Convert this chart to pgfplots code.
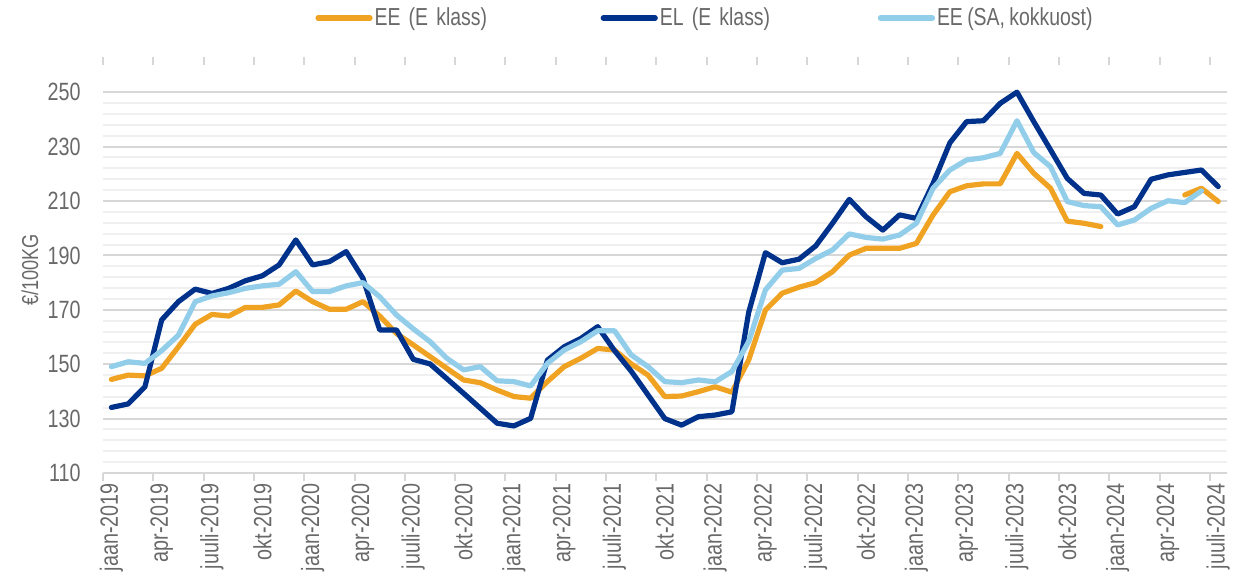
\documentclass[border=0pt]{standalone}
\usepackage{fontspec}
\setmainfont[FakeStretch=0.79,WordSpace=0.8]{Liberation Sans}
\usepackage{pgfplots}
\pgfplotsset{compat=1.18}
\definecolor{cOrange}{RGB}{240,163,35}
\definecolor{cDark}{RGB}{0,50,140}
\definecolor{cLight}{RGB}{146,205,234}
\definecolor{cText}{RGB}{105,105,105}
\definecolor{cGridMaj}{RGB}{215,215,215}
\definecolor{cGridMin}{RGB}{240,240,240}
\begin{document}
\begin{tikzpicture}
\path[use as bounding box] (0,0) rectangle (620pt,292pt);
\begin{axis}[
  scale only axis, width=561.8pt, height=204pt,
  at={(51.5pt,55.5pt)}, anchor=south west,
  xmin=-0.5, xmax=66.5, ymin=110, ymax=260,
  axis line style={draw=none},
  major tick length=0pt, minor tick length=0pt, tick align=outside,
  ytick={110,130,...,250},
  minor y tick num=4,
  ymajorgrids, yminorgrids,
  major grid style={draw=cGridMaj, line width=1pt},
  minor grid style={draw=cGridMin, line width=1pt},
  xtick={0,3,...,66},
  xticklabels={jaan-2019,apr-2019,juuli-2019,okt-2019,jaan-2020,apr-2020,juuli-2020,okt-2020,jaan-2021,apr-2021,juuli-2021,okt-2021,jaan-2022,apr-2022,juuli-2022,okt-2022,jaan-2023,apr-2023,juuli-2023,okt-2023,jaan-2024,apr-2024,juuli-2024},
  extra x ticks={-0.5,2.5,...,65.5},
  extra x tick labels={},
  extra x tick style={major tick length=4pt, tick align=outside, grid=none, major tick style={draw=cGridMaj, line width=1pt}},
  tick label style={font=\fontsize{12.5}{14}\selectfont, text=cText},
  /pgf/number format/assume math mode=true,
  yticklabel style={anchor=east, inner sep=0pt},
  yticklabel shift=11pt,
  xticklabel style={rotate=90, anchor=east, inner sep=0pt},
  xticklabel shift=5pt,
  ylabel={€/100KG},
  ylabel style={at={(axis description cs:-0.065,0.4975)}, anchor=center, font=\fontsize{11.5}{13}\selectfont, text=cText},
  legend columns=3,
  legend cell align=left,
  legend style={at={(axis description cs:0.1887,1.1152)}, anchor=west, draw=none, fill=none, inner sep=0pt,
    font=\fontsize{12.3}{14}\selectfont, text=cText,
    nodes={inner sep=1pt},
    /tikz/column 2/.append style={text width=112pt},
    /tikz/column 4/.append style={text width=108pt}},
  legend image code/.code={\draw[#1, line width=2.6pt, line cap=round] (0pt,0pt) -- (26pt,0pt);},
  every axis plot/.append style={line width=2.6pt, line join=round, line cap=round},
]
\addplot[cOrange, unbounded coords=jump] coordinates {
(0,144.4) (1,146.0) (2,145.7) (3,148.5) (4,156.4) (5,164.7) (6,168.3) (7,167.7) (8,170.9) (9,170.9)
(10,171.8) (11,176.9) (12,173.0) (13,170.2) (14,170.2) (15,173.0) (16,167.7) (17,161.3) (18,157.1) (19,152.8)
(20,148.5) (21,144.2) (22,143.2) (23,140.5) (24,138.1) (25,137.5) (26,143.6) (27,149.1) (28,152.2) (29,155.8)
(30,155.2) (31,150.1) (32,146.0) (33,138.1) (34,138.3) (35,139.9) (36,141.7) (37,139.7) (38,151.5) (39,169.9)
(40,176.1) (41,178.3) (42,180.0) (43,184.0) (44,190.1) (45,192.6) (46,192.6) (47,192.6) (48,194.4) (49,204.9)
(50,213.4) (51,215.6) (52,216.3) (53,216.3) (54,227.5) (55,220.2) (56,214.7) (57,202.6) (58,201.8) (59,200.6)
(60,nan) (64,212.2) (65,214.7) (66,209.8)
};
\addlegendentry{EE (E klass)}
\addplot[cDark] coordinates {
(0,134.1) (1,135.4) (2,141.7) (3,166.3) (4,173.0) (5,177.6) (6,176.0) (7,177.9) (8,180.7) (9,182.5)
(10,186.5) (11,195.7) (12,186.5) (13,187.7) (14,191.4) (15,181.6) (16,162.6) (17,162.6) (18,151.8) (19,150.1)
(20,144.7) (21,139.3) (22,133.8) (23,128.3) (24,127.3) (25,130.1) (26,151.5) (27,156.4) (28,159.5) (29,163.8)
(30,155.0) (31,147.4) (32,138.7) (33,130.0) (34,127.6) (35,130.7) (36,131.3) (37,132.5) (38,169.0) (39,191.0)
(40,187.3) (41,188.6) (42,193.5) (43,201.8) (44,210.6) (45,204.2) (46,199.3) (47,204.9) (48,203.6) (49,216.5)
(50,231.4) (51,239.2) (52,239.5) (53,245.9) (54,250.0) (55,239.2) (56,228.8) (57,218.3) (58,212.8) (59,212.2)
(60,205.2) (61,207.9) (62,218.0) (63,219.6) (64,220.5) (65,221.4) (66,215.3)
};
\addlegendentry{EL (E klass)}
\addplot[cLight] coordinates {
(0,149.1) (1,150.9) (2,150.3) (3,155.0) (4,160.7) (5,173.0) (6,175.1) (7,176.3) (8,177.9) (9,178.8)
(10,179.4) (11,184.0) (12,176.7) (13,176.7) (14,178.8) (15,180.0) (16,174.8) (17,168.1) (18,163.0) (19,158.3)
(20,152.2) (21,147.9) (22,149.1) (23,143.9) (24,143.6) (25,142.0) (26,150.3) (27,155.2) (28,158.3) (29,162.3)
(30,162.3) (31,153.4) (32,149.1) (33,143.6) (34,143.2) (35,144.2) (36,143.5) (37,147.3) (38,158.3) (39,177.3)
(40,184.6) (41,185.2) (42,188.9) (43,192.0) (44,197.9) (45,196.6) (46,196.0) (47,197.5) (48,201.8) (49,214.7)
(50,221.4) (51,225.1) (52,225.9) (53,227.5) (54,239.5) (55,227.8) (56,222.6) (57,209.8) (58,208.3) (59,207.9)
(60,201.2) (61,203.0) (62,207.3) (63,210.1) (64,209.4) (65,213.7)
};
\addlegendentry{EE (SA, kokkuost)}
\end{axis}
\end{tikzpicture}
\end{document}
